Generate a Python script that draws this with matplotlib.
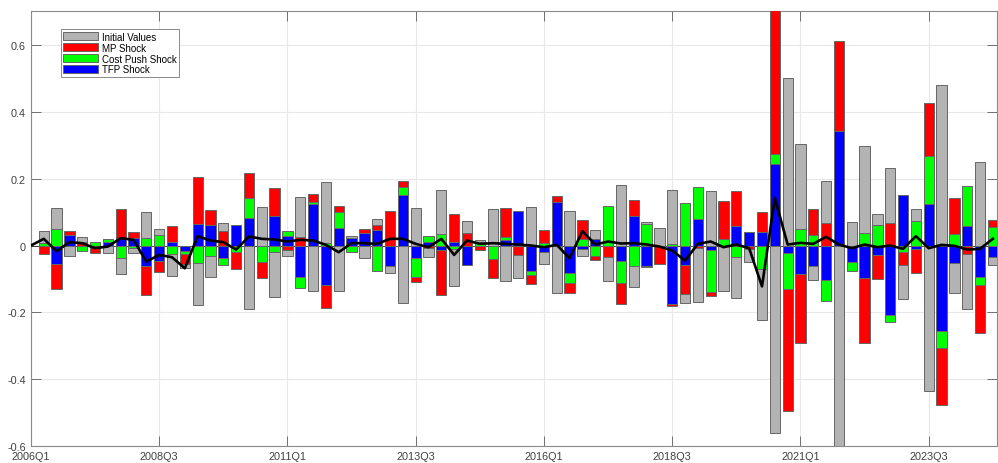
import matplotlib
matplotlib.use('Agg')
import matplotlib.pyplot as plt
import numpy as np

# ---------------- data ----------------
tick_labels = ['2006Q1', '2008Q3', '2011Q1', '2013Q3', '2016Q1', '2018Q3', '2021Q1', '2023Q3']

initial = [0.037, 0.062, -0.032, 0.012, 0.0, -0.023, -0.048, -0.015, 0.077, 0.018,
           -0.067, -0.013, -0.124, -0.061, 0.026, 0.0, -0.19, 0.115, -0.133, -0.017,
           0.12, -0.137, 0.182, -0.137, 0.006, -0.037, 0.018, -0.023, -0.173, 0.113,
           -0.027, 0.13, -0.11, 0.035, 0.007, 0.108, -0.107, -0.07, 0.115, -0.037,
           -0.143, 0.104, -0.022, 0.026, -0.074, 0.182, -0.065, 0.006, 0.052, 0.16,
           -0.027, -0.162, 0.163, -0.137, -0.124, -0.038, -0.152, -0.56, 0.5, 0.252,
           -0.043, 0.126, -0.607, 0.07, 0.259, 0.035, 0.164, -0.103, 0.038, -0.435,
           0.48, -0.091, -0.165, 0.25, -0.023]
mp_shock = [-0.025, -0.075, 0.014, 0.012, -0.023, 0.0, 0.087, 0.019, -0.088, -0.033,
            0.045, -0.03, 0.14, 0.045, 0.042, -0.052, 0.076, -0.048, 0.086, -0.013,
            0.025, 0.023, -0.069, 0.017, 0.0, 0.01, 0.017, 0.103, 0.017, -0.013,
            -0.008, -0.135, 0.084, 0.037, -0.012, -0.058, 0.088, -0.027, -0.027, 0.039,
            0.017, -0.031, 0.056, -0.012, -0.033, -0.063, 0.047, -0.005, -0.055, -0.007,
            -0.088, -0.008, -0.01, 0.113, 0.104, -0.01, 0.059, 0.43, -0.365, -0.204,
            0.08, 0.067, 0.267, 0.0, -0.194, -0.073, 0.068, -0.037, -0.072, 0.16,
            -0.173, 0.107, -0.025, -0.142, 0.021]
cost_push = [0.007, 0.05, 0.0, -0.015, 0.012, 0.01, -0.037, -0.008, 0.023, 0.032,
             -0.025, -0.01, -0.053, -0.032, -0.02, -0.018, 0.06, -0.05, -0.02, 0.015,
             -0.033, 0.005, 0.008, 0.048, -0.02, 0.0, -0.075, 0.0, 0.023, -0.057,
             0.018, 0.035, -0.01, 0.0, 0.01, -0.04, 0.008, 0.0, -0.011, 0.008,
             0.0, -0.03, 0.02, -0.03, 0.118, -0.068, -0.06, 0.064, 0.0, 0.005,
             0.128, 0.095, -0.128, 0.02, -0.033, 0.0, -0.07, 0.028, -0.108, 0.05,
             0.03, -0.065, 0.0, -0.027, 0.038, 0.06, -0.022, -0.02, 0.072, 0.144,
             -0.05, 0.035, 0.12, -0.025, 0.054]
tfp_shock = [0.0, -0.055, 0.03, 0.0, 0.0, 0.01, 0.023, 0.022, -0.06, -0.045,
             0.012, -0.015, 0.065, 0.062, -0.038, 0.06, 0.082, 0.0, 0.087, 0.028,
             -0.095, 0.125, -0.118, 0.052, 0.022, 0.038, 0.045, -0.06, 0.152, -0.038,
             0.01, -0.012, 0.01, -0.057, 0.0, 0.0, 0.016, 0.102, -0.077, -0.018,
             0.13, -0.082, -0.01, 0.02, 0.0, -0.045, 0.088, -0.06, 0.0, -0.175,
             -0.057, 0.08, -0.012, 0.0, 0.058, 0.04, 0.04, 0.245, -0.022, -0.086,
             -0.06, -0.102, 0.343, -0.05, -0.098, -0.027, -0.208, 0.15, -0.01, 0.123,
             -0.255, -0.052, 0.058, -0.093, -0.035]
# black line (starts at 0 before the first quarter)
total = [0.0,
         0.02, -0.017, 0.01, 0.007, -0.008, -0.003, 0.022, 0.017, -0.048, -0.028,
         -0.035, -0.068, 0.028, 0.015, 0.01, -0.012, 0.027, 0.02, 0.018, 0.012,
         0.017, 0.015, 0.002, -0.02, 0.007, 0.007, 0.005, 0.02, 0.02, 0.005,
         -0.005, 0.02, -0.028, 0.015, 0.005, 0.007, 0.005, 0.003, 0.0, -0.005,
         0.002, -0.038, 0.043, 0.003, 0.012, 0.006, 0.007, 0.003, -0.003, -0.015,
         -0.045, 0.005, 0.012, -0.005, 0.003, -0.008, -0.122, 0.142, 0.003, 0.008,
         0.005, 0.026, 0.003, -0.008, 0.003, -0.005, 0.0, -0.01, 0.028, -0.008,
         0.002, -0.001, -0.012, -0.01, 0.02]

# ---------------- plot ----------------
plt.rcParams['font.family'] = ['Liberation Sans', 'DejaVu Sans']

n = len(initial)
x = np.arange(1, n + 1)

fig = plt.figure(figsize=(9.98, 4.64), dpi=100)
ax = fig.add_axes([0.031, 0.036, 0.9677, 0.9375])

series = [('TFP Shock', tfp_shock, '#0000ff'),
          ('Cost Push Shock', cost_push, '#00ff00'),
          ('MP Shock', mp_shock, '#ff0000'),
          ('Initial Values', initial, '#b3b3b3')]
pos = np.zeros(n)
neg = np.zeros(n)
handles = {}
for name, vals, col in series:
    v = np.array(vals, dtype=float)
    base = np.where(v >= 0, pos, neg)
    b = ax.bar(x, v, 0.8, bottom=base, color=col, edgecolor='#666666',
               linewidth=0.7, label=name, zorder=3)
    pos += np.where(v > 0, v, 0)
    neg += np.where(v < 0, v, 0)
    handles[name] = b

ax.axhline(0, color='#303030', lw=0.6, zorder=2)
ax.plot(np.arange(len(total)), total, color='black', lw=1.9, zorder=5)

ax.set_xlim(0, 75.3)
ax.set_ylim(-0.6, 0.7)
ax.set_xticks(np.arange(0, 10 * len(tick_labels), 10))
ax.set_xticklabels(tick_labels)
yt = [-0.6, -0.4, -0.2, 0, 0.2, 0.4, 0.6]
ax.set_yticks(yt)
ax.set_yticklabels(['%g' % t for t in yt])

ax.grid(True, color='#e8e8e8', lw=0.8, zorder=0)
ax.set_axisbelow(True)
ax.tick_params(direction='in', top=True, right=True, length=7, width=0.7,
               color='#707070', labelsize=7.8, labelcolor='#404040', pad=3.5)
for s in ax.spines.values():
    s.set_color('#8a8a8a')
    s.set_linewidth(0.8)

order = ['Initial Values', 'MP Shock', 'Cost Push Shock', 'TFP Shock']
leg = ax.legend([handles[k] for k in order], order, loc='upper left',
                bbox_to_anchor=(0.0308, 0.959), borderaxespad=0,
                fontsize=7, handlelength=3.6, handleheight=0.85,
                handletextpad=0.35, labelspacing=0.1, borderpad=0.25,
                fancybox=False, framealpha=1, edgecolor='#8a8a8a')
leg.get_frame().set_linewidth(0.7)

fig.savefig('out.png', dpi=100)
